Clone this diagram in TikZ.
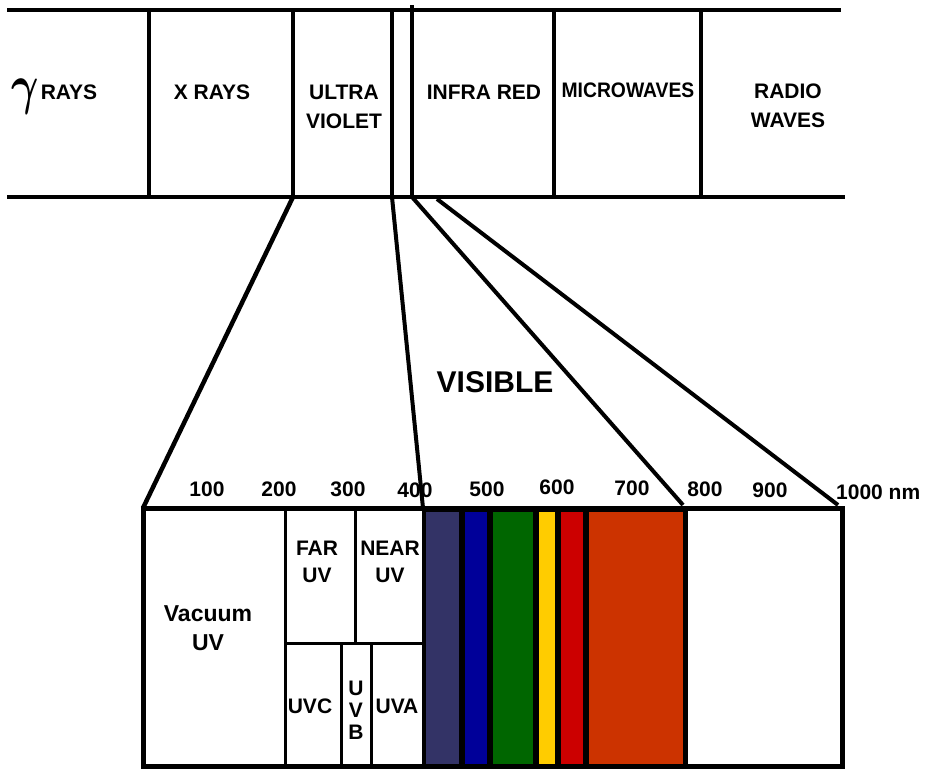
\documentclass[tikz,border=0pt]{standalone}
\usepackage{fontspec}
\setmainfont{Liberation Sans}
\definecolor{cviol}{HTML}{333366}
\definecolor{cblue}{HTML}{000099}
\definecolor{cgreen}{HTML}{006600}
\definecolor{cyellow}{HTML}{FFCC00}
\definecolor{cred}{HTML}{CC0000}
\definecolor{corange}{HTML}{CC3300}
\begin{document}
\begin{tikzpicture}[x=1pt,y=-1pt,
  lbl/.style={font=\fontsize{21}{29}\selectfont\bfseries, align=center, inner sep=0pt},
  big/.style={font=\fontsize{23}{29}\selectfont\bfseries, align=center, inner sep=0pt},
  num/.style={font=\fontsize{21}{22}\selectfont\bfseries, inner sep=0pt},
  bandline/.style={line width=3.5pt},
  fanline/.style={line width=4.5pt},
  boxline/.style={line width=5pt},
  divline/.style={line width=3pt}]
\useasboundingbox (0,0) rectangle (927,769);
% ---- top band ----
\coordinate (tl) at (7,10);
\coordinate (tr) at (841,10);
\coordinate (bl) at (7,197);
\coordinate (br) at (845,197);
\draw[bandline] (tl) -- (tr);
\draw[bandline] (bl) -- (br);
\coordinate (v1t) at (149,10);  \coordinate (v1b) at (149,197);
\coordinate (v2t) at (293,10);  \coordinate (v2b) at (293,197);
\coordinate (v3t) at (392,10);  \coordinate (v3b) at (392,197);
\coordinate (v4t) at (412,5);   \coordinate (v4b) at (412,197);
\coordinate (v5t) at (554,10);  \coordinate (v5b) at (554,197);
\coordinate (v6t) at (701,10);  \coordinate (v6b) at (701,197);
\foreach \i in {1,...,6} {\draw[bandline] (v\i t) -- (v\i b);}
% labels of top band
\node[inner sep=0pt] (gam) at (25.5,97) {\scalebox{4.2}[5.5]{\boldmath$\gamma$}};
\node[lbl] (rays) at (69,92) {RAYS};
\node[lbl] (xrays) at (212,92) {X RAYS};
\node[lbl] (uv) at (344,107) {ULTRA\\VIOLET};
\node[lbl] (ir) at (484,92) {INFRA RED};
\node[lbl] (mw) at (628,90) {\scalebox{0.92}[1]{MICROWAVES}};
\node[lbl] (radio) at (788,106) {RADIO\\WAVES};
% ---- lower box ----
\coordinate (btl) at (143,508);
\coordinate (btr) at (842,508);
\coordinate (bbl) at (143,766);
\coordinate (bbr) at (842,766);
\coordinate (b400t) at (423,508);
\coordinate (b400b) at (423,766);
\coordinate (b780t) at (685,508);
\coordinate (b780b) at (685,766);
% spectrum colours
\fill[black] (423,508) rectangle (687,766);
\fill[cviol]   (425.5,512) rectangle (459,764);
\fill[cblue]   (465,512) rectangle (487,764);
\fill[cgreen]  (493,512) rectangle (533,764);
\fill[cyellow] (538.5,512) rectangle (555,764);
\fill[cred]    (561,512) rectangle (583,764);
\fill[corange] (589,512) rectangle (683,764);
% UV subdivisions
\coordinate (d1t) at (285,508); \coordinate (d1b) at (285,766);
\coordinate (hL) at (285,643);  \coordinate (hR) at (423,643);
\coordinate (d2t) at (355,508); \coordinate (d2b) at (355,643);
\coordinate (d3t) at (341,643); \coordinate (d3b) at (341,766);
\coordinate (d4t) at (371,643); \coordinate (d4b) at (371,766);
\draw[divline] (d1t) -- (d1b);
\draw[divline] (hL) -- (hR);
\draw[divline] (d2t) -- (d2b);
\draw[divline] (d3t) -- (d3b);
\draw[divline] (d4t) -- (d4b);
\draw[divline] (b400t) -- (b400b);
\draw[boxline] (b780t) -- (b780b);
\draw[boxline] (btl) rectangle (bbr);
% ---- fan lines ----
\coordinate (f3e) at (683,505);
\coordinate (f4s) at (437,199);
\coordinate (f4e) at (838,505);
\draw[fanline] (v2b) -- (btl);
\draw[line width=4pt] (v3b) -- (b400t);
\draw[line width=4pt] (v4b) -- (f3e);
\draw[line width=4pt] (f4s) -- (f4e);
% ---- scale numbers ----
\node[num] (n100) at (207,489) {100};
\node[num] (n200) at (279,489) {200};
\node[num] (n300) at (348,489) {300};
\node[num] (n400) at (415,490) {400};
\node[num] (n500) at (487,489) {500};
\node[num] (n600) at (557,487) {600};
\node[num] (n700) at (632,488) {700};
\node[num] (n800) at (705,489) {800};
\node[num] (n900) at (770,490) {900};
\node[num, anchor=west] (n1000) at (836,492) {1000 nm};
% ---- VISIBLE ----
\node[font=\fontsize{30}{30}\selectfont\bfseries, inner sep=0pt] (vis) at (495,382) {VISIBLE};
% ---- UV region labels ----
\node[big] (vac) at (208,628) {Vacuum\\UV};
\node[lbl, font=\fontsize{21}{27}\selectfont\bfseries] (far) at (317,562) {FAR\\UV};
\node[lbl, font=\fontsize{21}{27}\selectfont\bfseries] (near) at (390,562) {NEAR\\UV};
\node[lbl] (uvc) at (310,706) {UVC};
\node[lbl, font=\fontsize{21}{22}\selectfont\bfseries] (uvb) at (356,710) {U\\V\\B};
\node[lbl] (uva) at (397,706) {UVA};
\end{tikzpicture}
\end{document}
